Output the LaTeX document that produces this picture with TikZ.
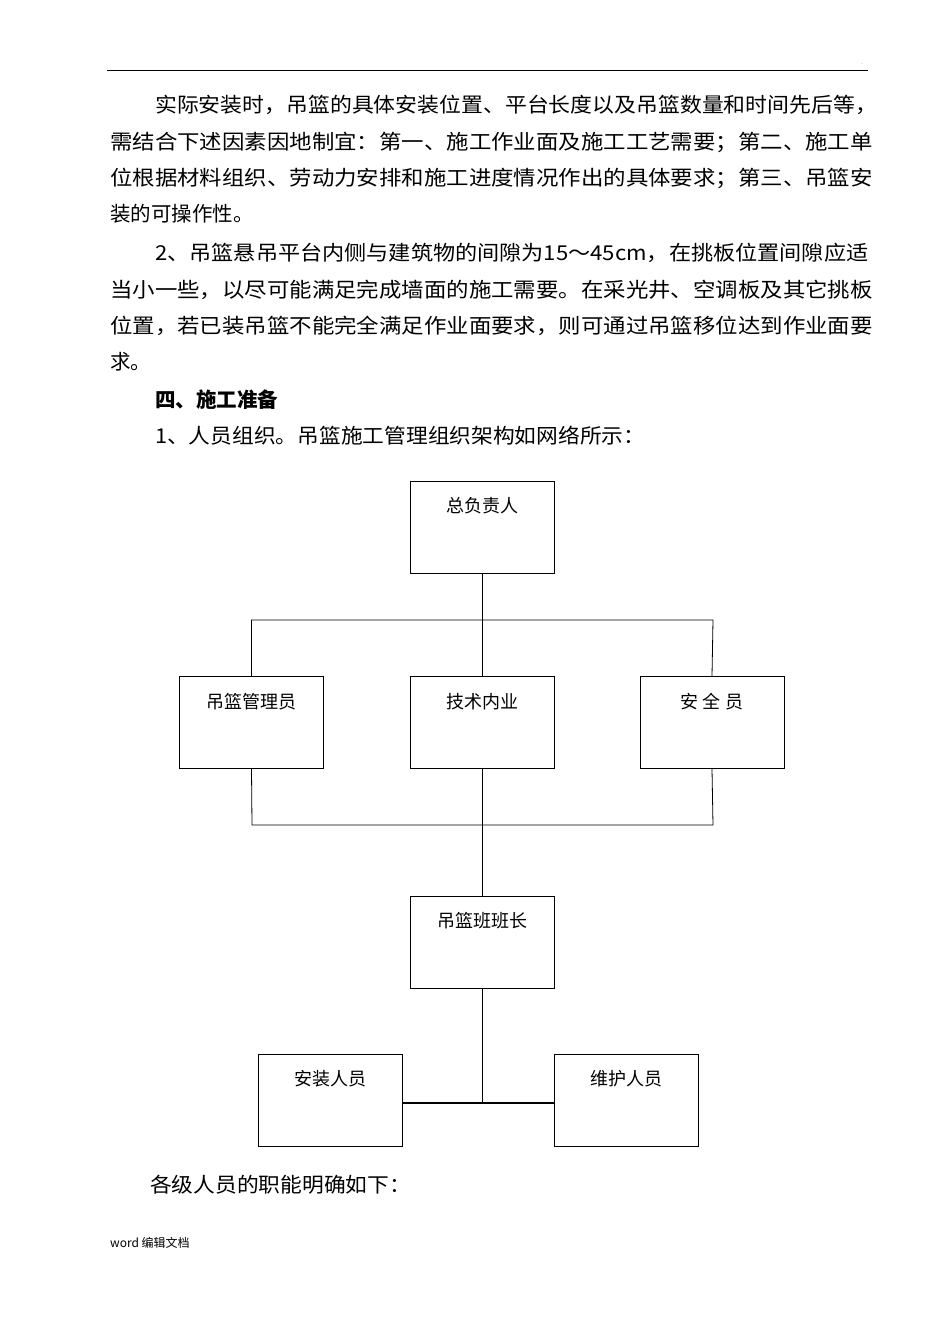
\documentclass[tikz,border=0pt]{standalone}
\usepackage{fontspec}
\usepackage{graphicx}
\newfontfamily\cjk{Noto Sans CJK SC}
\begin{document}
\begin{tikzpicture}[x=1pt,y=-1pt,
  txt/.style={anchor=west,inner sep=0pt,font=\cjk\fontsize{20.5}{21}\selectfont},
  box/.style={draw,line width=1pt,minimum width=144pt,minimum height=92pt,inner sep=0pt},
  lbl/.style={anchor=north,inner sep=0pt,font=\cjk\fontsize{18}{19}\selectfont},
  ln/.style={line width=0.8pt}]
\useasboundingbox (0,0) rectangle (950,1344);
\fill[white] (0,0) rectangle (950,1344);
\draw[line width=0.8pt] (107,70) -- (868,70);
\node[inner sep=0pt,font=\tiny] at (862,64) {.};
\node[txt] (l1) at (155,105) {\scalebox{1.067}[1]{实际安装时，吊篮的具体安装位置、平台长度以及吊篮数量和时间先后等，}};
\node[txt] (l2) at (110,142) {\scalebox{1.094}[1]{需结合下述因素因地制宜：第一、施工作业面及施工工艺需要；第二、施工单}};
\node[txt] (l3) at (110,178) {\scalebox{1.094}[1]{位根据材料组织、劳动力安排和施工进度情况作出的具体要求；第三、吊篮安}};
\node[txt] (l4) at (110,214) {装的可操作性。};
\node[txt] (l5) at (155,253) {\scalebox{1.08}[1]{2、吊篮悬吊平台内侧与建筑物的间隙为15～45cm，在挑板位置间隙应适}};
\node[txt] (l6) at (110,290) {\scalebox{1.094}[1]{当小一些，以尽可能满足完成墙面的施工需要。在采光井、空调板及其它挑板}};
\node[txt] (l7) at (110,326) {\scalebox{1.094}[1]{位置，若已装吊篮不能完全满足作业面要求，则可通过吊篮移位达到作业面要}};
\node[txt] (l8) at (110,362) {求。};
\node[txt,font=\cjk\bfseries\fontsize{20.5}{21}\selectfont] (l9) at (155,400) {四、施工准备};
\node[txt] (l10) at (155,436) {\scalebox{1.06}[1]{1、人员组织。吊篮施工管理组织架构如网络所示：}};
% boxes
\node[box] (top) at (482,527.5) {};
\node[box] (b1) at (251.5,722.5) {};
\node[box] (b2) at (482,722.5) {};
\node[box] (b3) at (712,722.5) {};
\node[box] (lead) at (482,942) {};
\node[box] (w1) at (330,1100.5) {};
\node[box] (w2) at (626,1100.5) {};
\node[lbl] at (482,497) {总负责人};
\node[lbl] at (251.5,693) {吊篮管理员};
\node[lbl] at (482,693) {技术内业};
\node[lbl] at (712,693) {安\ 全\ 员};
\node[lbl] at (482,912) {吊篮班班长};
\node[lbl] at (330,1070) {安装人员};
\node[lbl] at (626,1070) {维护人员};
% connectors
\coordinate (t1) at (252,620); \coordinate (t3) at (713,620);
\coordinate (u1) at (252,825); \coordinate (u3) at (713,825);
\coordinate (j) at (482,1103);
\draw[ln] (top.south) -- (b2.north);
\draw[ln] (b1.north) |- (t1) -- (t3) -- (b3.north);
\draw[ln] (b1.south) -- (u1) -- (u3) -- (b3.south);
\draw[ln] (b2.south) -- (lead.north);
\draw[ln] (lead.south) -- (j);
\draw[line width=1.6pt] (w1.east |- j) -- (w2.west |- j);
\node[txt] (f1) at (150,1185) {\scalebox{1.06}[1]{各级人员的职能明确如下：}};
\node[anchor=west,inner sep=0pt,font=\cjk\fontsize{12}{13}\selectfont] (ft) at (110,1243) {word 编辑文档};
\end{tikzpicture}
\end{document}
